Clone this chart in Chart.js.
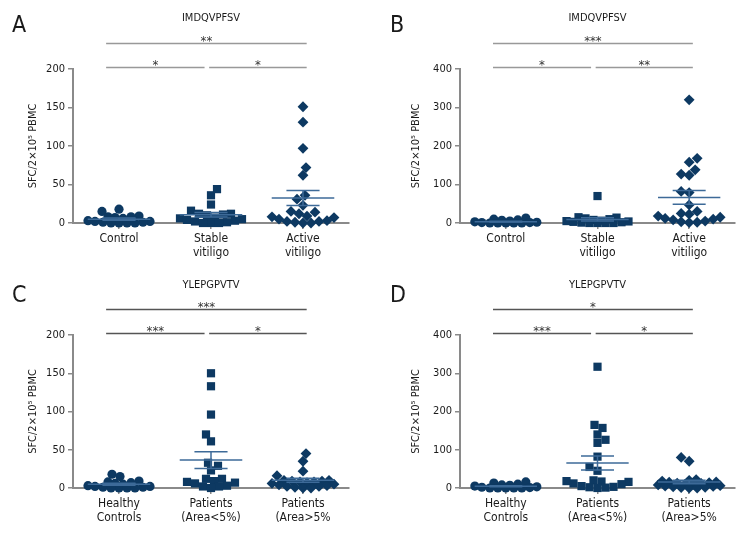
<!DOCTYPE html>
<html><head><meta charset="utf-8">
<script src="https://cdn.jsdelivr.net/npm/chart.js@4.4.1/dist/chart.umd.min.js"></script>
<style>
html,body{margin:0;padding:0;background:#fff;}
#wrap{position:relative;width:756px;height:540px;background:#fff;}
.cell{position:absolute;width:378px;height:270px;}
canvas{display:block;}
</style></head><body>
<div id="wrap">
<div class="cell" style="left:0;top:0"><canvas id="cA" width="378" height="270"></canvas></div>
<div class="cell" style="left:378px;top:0"><canvas id="cB" width="378" height="270"></canvas></div>
<div class="cell" style="left:0;top:270px"><canvas id="cC" width="378" height="270"></canvas></div>
<div class="cell" style="left:378px;top:270px"><canvas id="cD" width="378" height="270"></canvas></div>
</div>
<script>
// ---------- data ----------
const categoriesAB = ['Control', 'Stable\nvitiligo', 'Active\nvitiligo'];
const categoriesCD = ['Healthy\nControls', 'Patients\n(Area<5%)', 'Patients\n(Area>5%'];
const peptideAB = 'IMDQVPFSV';
const peptideCD = 'YLEPGPVTV';
const yTitle = 'SFC/2×10⁵ PBMC';

const aControl = [18, 15, 9, 8, 8, 7, 6, 3, 2, 2, 1, 1, 0, 0, 0, 0];
const aStable  = [44, 36, 24, 16, 12, 12, 11, 10, 7, 6, 5, 4, 3, 2, 1, 0, 0, 0];
const aActive  = [151, 131, 97, 72, 62, 36, 31, 23, 15, 14, 12, 9, 8, 7, 5, 3, 2, 2, 1, 0, 0];

const bControl = [13, 10, 8, 7, 5, 3, 2, 1, 1, 0, 0, 0, 0, 0];
const bStable  = [70, 15, 14, 12, 10, 8, 6, 5, 4, 3, 2, 1, 0, 0, 0, 0];
const bActive  = [320, 168, 158, 138, 127, 124, 82, 79, 47, 30, 25, 23, 18, 15, 12, 10, 8, 5, 3, 2, 1];

const cHealthy = [18, 15, 9, 8, 7, 6, 5, 3, 2, 2, 1, 1, 0, 0, 0, 0];
const cLow     = [150, 133, 96, 70, 61, 33, 29, 23, 12, 12, 9, 8, 7, 6, 3, 2, 2, 0];
const cHigh    = [45, 35, 22, 16, 10, 10, 9, 9, 8, 8, 7, 6, 5, 4, 3, 2, 2, 1, 0, 0];

const dHealthy = [16, 13, 10, 8, 7, 5, 3, 2, 1, 0, 0, 0, 0, 0];
const dLow     = [317, 165, 157, 140, 126, 118, 82, 55, 45, 20, 18, 17, 16, 12, 10, 5, 3, 2, 1, 0];
const dHigh    = [80, 70, 22, 20, 18, 16, 15, 14, 13, 12, 10, 9, 8, 6, 5, 4, 3, 2, 1, 0, 0];

const yMaxAC = 200, yStepAC = 50;
const yMaxBD = 400, yStepBD = 100;

const starsA = ['**', '*', '*'];     // top, left, right
const starsB = ['***', '*', '**'];
const starsC = ['***', '***', '*'];
const starsD = ['*', '***', '*'];

// ---------- style ----------
const FONT = '"Liberation Sans Narrow", "DejaVu Sans Condensed", "Roboto Condensed", sans-serif';
const PT = '#0d3962';
const MEANC = '#3d6a98';
const AXC = '#8a8a8a';
const shapes = ['circle', 'rect', 'rectRot'];
const radii = [4.6, 5.8, 5.4];

const panels = [
  {id:'cA', letter:'A', title:peptideAB, cats:categoriesAB, groups:[aControl,aStable,aActive], ymax:yMaxAC, step:yStepAC, stars:starsA, left:73, right:349, top:69, bottom:223, titleY:18, ytX:33, sig:'#999999'},
  {id:'cB', letter:'B', title:peptideAB, cats:categoriesAB, groups:[bControl,bStable,bActive], ymax:yMaxBD, step:yStepBD, stars:starsB, left:82, right:357, top:69, bottom:223, titleY:18, ytX:38, sig:'#999999'},
  {id:'cC', letter:'C', title:peptideCD, cats:categoriesCD, groups:[cHealthy,cLow,cHigh], ymax:yMaxAC, step:yStepAC, stars:starsC, left:73, right:349, top:65, bottom:218, titleY:15, ytX:33, sig:'#555555'},
  {id:'cD', letter:'D', title:peptideCD, cats:categoriesCD, groups:[dHealthy,dLow,dHigh], ymax:yMaxBD, step:yStepBD, stars:starsD, left:82, right:357, top:65, bottom:218, titleY:15, ytX:38, sig:'#555555'}
];

// beeswarm layout derived from the values (pixel space -> data units), capped width
function swarm(values, center, pxX, pxY, diam, maxOff) {
  const order = values.map((v, i) => i).sort((a, b) => values[a] - values[b]);
  const placed = [];
  const out = new Array(values.length);
  order.forEach((idx, k) => {
    const py = values[idx] * pxY;
    let best = null, fallback = 0, bestD = -1;
    for (let s = 0; s <= maxOff && best === null; s++) {
      const cands = s === 0 ? [0] : (k % 2 ? [s, -s] : [-s, s]);
      for (const off of cands) {
        let minD = Infinity;
        placed.forEach(p => { minD = Math.min(minD, Math.hypot(p.x - off, p.y - py)); });
        if (minD >= diam) { best = off; break; }
        if (minD > bestD) { bestD = minD; fallback = off; }
      }
    }
    if (best === null) best = fallback;
    placed.push({x: best, y: py});
    out[idx] = {x: center + best / pxX, y: values[idx]};
  });
  return out;
}
function meanSem(v) {
  const n = v.length, m = v.reduce((a, b) => a + b, 0) / n;
  const sd = Math.sqrt(v.reduce((a, b) => a + (b - m) ** 2, 0) / (n - 1));
  return [m, sd / Math.sqrt(n)];
}
function seg(x1, y1, x2, y2, w) {
  return {data:[{x:x1, y:y1}, {x:x2, y:y2}], showLine:true, borderColor:MEANC, borderWidth:w, pointRadius:0, fill:false, clip:false};
}

panels.forEach(p => {
  const pxX = (p.right - p.left) / 3;
  const pxY = (p.bottom - p.top) / p.ymax;
  const lineSets = [], pointSets = [];
  p.groups.forEach((vals, i) => {
    const [m, se] = meanSem(vals);
    lineSets.push(seg(i - 0.34, m, i + 0.34, m, 1.5));
    lineSets.push(seg(i - 0.18, m + se, i + 0.18, m + se, 1.5));
    lineSets.push(seg(i - 0.18, m - se, i + 0.18, m - se, 1.5));
    lineSets.push(seg(i, Math.max(0, m - se), i, m + se, 1.5));
    pointSets.push({
      data: swarm(vals, i, pxX, pxY, 8, 31),
      pointStyle: shapes[i], pointRadius: radii[i], pointBackgroundColor: PT, pointBorderColor: PT, pointBorderWidth: 0, showLine:false, clip:false
    });
  });

  const decor = {
    id: 'decor',
    afterDraw(chart) {
      const ca = chart.chartArea, xs = chart.scales.x, ctx = chart.ctx;
      ctx.save();
      ctx.fillStyle = '#1a1a1a';
      ctx.font = '23px ' + FONT;
      ctx.textAlign = 'left'; ctx.textBaseline = 'middle';
      ctx.fillText(p.letter, 12, 26);
      ctx.font = '11px ' + FONT;
      ctx.textAlign = 'center';
      ctx.fillText(p.title, xs.getPixelForValue(1), p.titleY);
      const lowY = ca.top - 1.5, topY = ca.top - 25.5;
      const L = xs.getPixelForValue(-0.14), M1 = xs.getPixelForValue(0.93), M2 = xs.getPixelForValue(0.98), R = xs.getPixelForValue(2.04);
      ctx.strokeStyle = p.sig; ctx.lineWidth = 1.5;
      ctx.beginPath();
      ctx.moveTo(L, topY); ctx.lineTo(R, topY);
      ctx.moveTo(L, lowY); ctx.lineTo(M1, lowY);
      ctx.moveTo(M2, lowY); ctx.lineTo(R, lowY);
      ctx.stroke();
      ctx.fillStyle = '#333';
      ctx.font = '13px ' + FONT;
      ctx.textBaseline = 'alphabetic';
      ctx.fillText(p.stars[0], (L + R) / 2, topY + 1);
      ctx.fillText(p.stars[1], (L + M1) / 2, lowY + 1);
      ctx.fillText(p.stars[2], (M2 + R) / 2, lowY + 1);
      ctx.fillStyle = '#1a1a1a';
      ctx.font = '11px ' + FONT;
      ctx.textBaseline = 'middle';
      ctx.translate(p.ytX, (ca.top + ca.bottom) / 2);
      ctx.rotate(-Math.PI / 2);
      ctx.fillText(yTitle, 0, 0);
      ctx.restore();
    }
  };

  new Chart(document.getElementById(p.id), {
    type: 'scatter',
    data: {datasets: lineSets.concat(pointSets)},
    options: {
      responsive: false, animation: false, devicePixelRatio: 1,
      layout: {padding: {top: p.top, right: 378 - p.right, bottom: 0, left: 0}},
      plugins: {legend: {display: false}, tooltip: {enabled: false}, title: {display: false}},
      scales: {
        x: {
          type: 'linear', min: -0.5, max: 2.5,
          afterFit: s => { s.height = 270 - p.bottom; },
          afterBuildTicks: s => { s.ticks = [0, 1, 2].map(v => ({value: v})); },
          grid: {display: true, drawOnChartArea: false, drawTicks: true, tickLength: 6, color: AXC, lineWidth: 1.5},
          border: {display: true, color: AXC, width: 2},
          ticks: {padding: 3, color: '#1a1a1a', autoSkip: false, maxRotation: 0,
                  font: {family: FONT, size: 12, lineHeight: 1.15},
                  callback: v => p.cats[v].split('\n')}
        },
        y: {
          min: 0, max: p.ymax,
          afterFit: s => { s.width = p.left; },
          grid: {display: true, drawOnChartArea: false, drawTicks: true, tickLength: 5, color: AXC, lineWidth: 1.5},
          border: {display: true, color: AXC, width: 2},
          ticks: {stepSize: p.step, padding: 3, color: '#1a1a1a', font: {family: FONT, size: 11}}
        }
      }
    },
    plugins: [decor]
  });
});
</script>
</body></html>
